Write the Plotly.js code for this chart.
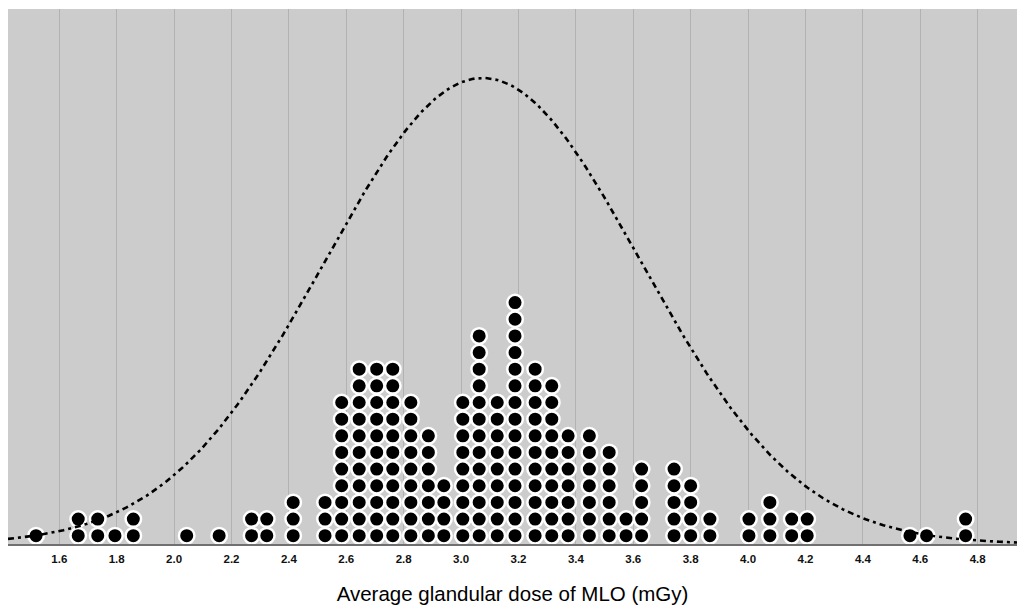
<!DOCTYPE html>
<html>
<head>
<meta charset="utf-8">
<script src="https://cdn.plot.ly/plotly-3.0.1.min.js"></script>
<style>html,body{margin:0;padding:0;background:#fff;}#chart{width:1017px;height:608px;}</style>
</head>
<body>
<div id="chart"></div>
<script>
// Dose bins (mGy) read from the dot columns, and number of dots in each column
const doseValues = [1.519, 1.666, 1.734, 1.794, 1.858, 2.044, 2.157, 2.270, 2.323, 2.415,
  2.526, 2.584, 2.645, 2.706, 2.762, 2.825, 2.886, 2.940, 3.006, 3.063,
  3.126, 3.188, 3.258, 3.316, 3.373, 3.447, 3.516, 3.575, 3.629, 3.742,
  3.800, 3.867, 4.003, 4.076, 4.152, 4.206, 4.564, 4.622, 4.758];
const dotCounts = [1, 2, 2, 1, 2, 1, 1, 2, 2, 3,
  3, 9, 11, 11, 11, 9, 7, 4, 9, 13,
  9, 15, 11, 10, 7, 7, 6, 2, 5, 5,
  4, 2, 2, 3, 2, 2, 1, 1, 2];
const tickValues = [1.6, 1.8, 2.0, 2.2, 2.4, 2.6, 2.8, 3.0, 3.2, 3.4, 3.6, 3.8, 4.0, 4.2, 4.4, 4.6, 4.8];
const tickLabels = ["1.6","1.8","2.0","2.2","2.4","2.6","2.8","3.0","3.2","3.4","3.6","3.8","4.0","4.2","4.4","4.6","4.8"];
const xTitle = "Average glandular dose of MLO (mGy)";

// stacked dots
const dx = [], dy = [];
doseValues.forEach((v, i) => {
  for (let k = 1; k <= dotCounts[i]; k++) { dx.push(v); dy.push(k - 0.5); }
});

// normal curve fitted to the data (mean and SD of the observations)
let n = 0, s = 0;
doseValues.forEach((v, i) => { n += dotCounts[i]; s += v * dotCounts[i]; });
const mean = s / n;
let ss = 0;
doseValues.forEach((v, i) => { ss += dotCounts[i] * (v - mean) * (v - mean); });
const sd = Math.sqrt(ss / (n - 1));
const xMin = 1.4213, xMax = 4.937;
const cx = [], cy = [];
for (let j = 0; j <= 400; j++) {
  const x = xMin + (xMax - xMin) * j / 400;
  cx.push(x);
  cy.push(Math.exp(-0.5 * Math.pow((x - mean) / sd, 2)) / (sd * Math.sqrt(2 * Math.PI)));
}
const peak = 1 / (sd * Math.sqrt(2 * Math.PI));

const traces = [
  {x: cx, y: cy, type: 'scatter', mode: 'lines', yaxis: 'y2',
   line: {color: '#000', width: 2.6, dash: '6px,4px,3px,4px'}, hoverinfo: 'skip'},
  {x: dx, y: dy, type: 'scatter', mode: 'markers',
   marker: {size: 15.5, color: '#000', line: {color: '#fff', width: 2.5}}}
];

const layout = {
  width: 1017, height: 608,
  margin: {l: 8, r: 0, t: 9, b: 64},
  paper_bgcolor: '#ffffff', plot_bgcolor: '#cccccc',
  showlegend: false,
  xaxis: {
    range: [xMin, xMax], tickvals: tickValues, ticktext: tickLabels,
    showgrid: true, gridcolor: '#b2b2b2', gridwidth: 1,
    zeroline: false, showline: true, linecolor: '#707070', linewidth: 1.5,
    ticks: '', ticklen: 0, ticklabelstandoff: 4,
    tickfont: {family: 'Liberation Sans, Arial, sans-serif', size: 11.5, color: '#111', weight: 'bold'},
    title: {text: xTitle, font: {family: 'Liberation Sans, Arial, sans-serif', size: 20.5, color: '#000'}, standoff: 22}
  },
  yaxis: {range: [0, 535 / 16.65], showgrid: false, zeroline: false, showticklabels: false, showline: false, fixedrange: true},
  yaxis2: {range: [0, peak * 535 / 466], overlaying: 'y', showgrid: false, zeroline: false, showticklabels: false, showline: false}
};

Plotly.newPlot('chart', traces, layout, {displayModeBar: false, staticPlot: true});
</script>
</body>
</html>
